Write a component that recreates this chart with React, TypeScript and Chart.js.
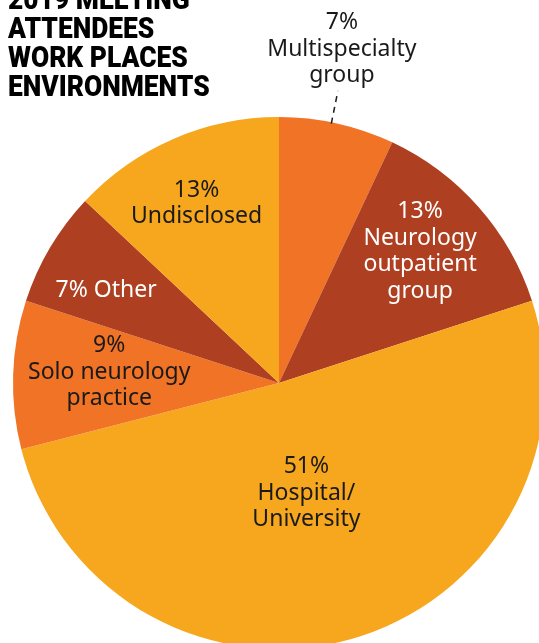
import React, { useEffect, useRef } from "react";
import { Chart, registerables } from "chart.js";

Chart.register(...registerables);

const categories = [
  "Multispecialty group",
  "Neurology outpatient group",
  "Hospital/University",
  "Solo neurology practice",
  "Other",
  "Undisclosed",
];
const values = [7, 13, 51, 9, 7, 13];
const labelLines: string[][] = [
  ["7%", "Multispecialty", "group"],
  ["13%", "Neurology", "outpatient", "group"],
  ["51%", "Hospital/", "University"],
  ["9%", "Solo neurology", "practice"],
  ["7% Other"],
  ["13%", "Undisclosed"],
];
const colors = ["#F07326", "#AE3F21", "#F7A71E", "#F07326", "#AE3F21", "#F7A71E"];
const textColors = ["#1a1a1a", "#ffffff", "#1a1a1a", "#1a1a1a", "#ffffff", "#1a1a1a"];
// label placement: radius fraction, angle offset (deg)
const labelRadius = [1.285, 0.73, 0.42, 0.64, 0.74, 0.75];
const labelAngleOff = [-2, -2, 2, 2.5, -2, -1];
const titleLines = ["2019 MEETING", "ATTENDEES", "WORK PLACES", "ENVIRONMENTS"];

const labelPlugin = {
  id: "sliceLabels",
  afterDatasetsDraw(chart: any) {
    const ctx = chart.ctx;
    const meta = chart.getDatasetMeta(0);
    ctx.save();
    ctx.font = "23px 'Noto Sans'";
    ctx.textAlign = "center";
    ctx.textBaseline = "middle";
    const lh = 26.5;
    meta.data.forEach((arc: any, i: number) => {
      const { x, y, startAngle, endAngle, outerRadius } = arc.getProps(
        ["x", "y", "startAngle", "endAngle", "outerRadius"],
        true
      );
      const mid = (startAngle + endAngle) / 2 + (labelAngleOff[i] * Math.PI) / 180;
      const r = outerRadius * labelRadius[i];
      const cx = x + Math.cos(mid) * r;
      const cy = y + Math.sin(mid) * r + 2;
      const lines = labelLines[i];
      ctx.fillStyle = textColors[i];
      lines.forEach((t, j) => {
        ctx.fillText(t, cx, cy + (j - (lines.length - 1) / 2) * lh);
      });
      if (i === 0) {
        ctx.strokeStyle = "#1a1a1a";
        ctx.lineWidth = 1.5;
        ctx.setLineDash([6, 5]);
        const a = (startAngle + endAngle) / 2 - (1.2 * Math.PI) / 180;
        ctx.beginPath();
        ctx.moveTo(x + Math.cos(a) * outerRadius * 0.995, y + Math.sin(a) * outerRadius * 0.995);
        ctx.lineTo(x + Math.cos(a) * outerRadius * 1.12, y + Math.sin(a) * outerRadius * 1.12);
        ctx.stroke();
      }
    });
    ctx.restore();
  },
};

export default function App() {
  const ref = useRef<HTMLCanvasElement>(null);
  useEffect(() => {
    if (!ref.current) return;
    const chart = new Chart(ref.current, {
      type: "pie",
      data: {
        labels: categories,
        datasets: [
          {
            data: values,
            backgroundColor: colors,
            borderWidth: 0,
          },
        ],
      },
      options: {
        responsive: false,
        animation: false,
        layout: { padding: { left: 13, right: 13, top: 117, bottom: 11 } },
        plugins: { legend: { display: false }, tooltip: { enabled: false } },
      },
      plugins: [labelPlugin],
    });
    return () => chart.destroy();
  }, []);
  return (
    <div
      style={{
        position: "fixed",
        left: 0,
        top: 0,
        width: 539,
        height: 643,
        overflow: "hidden",
        background: "#fff",
      }}
    >
      <canvas ref={ref} width={558} height={660} style={{ position: "absolute", left: 0, top: 0 }} />
      <div
        style={{
          position: "absolute",
          left: 8,
          top: -15,
          fontFamily: "Roboto",
          fontWeight: 900,
          fontSize: 29,
          lineHeight: "29px",
          color: "#000",
          whiteSpace: "nowrap",
          transform: "scaleX(0.91)",
          transformOrigin: "0 0",
        }}
      >
        {titleLines.map((t) => (
          <div key={t}>{t}</div>
        ))}
      </div>
    </div>
  );
}
